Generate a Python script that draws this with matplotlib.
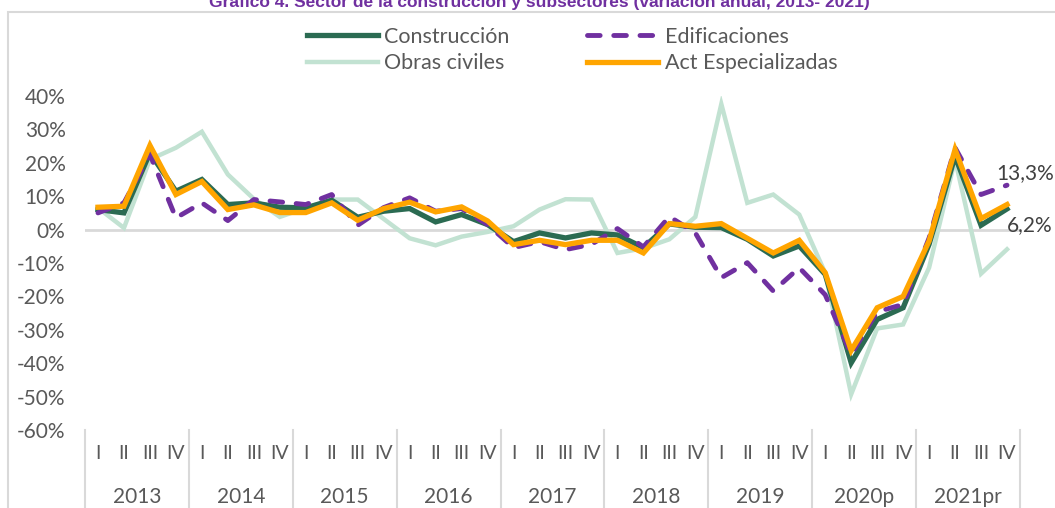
import numpy as np
import matplotlib
matplotlib.use("Agg")
import matplotlib.pyplot as plt
import matplotlib.transforms as mtransforms
from matplotlib.patches import Rectangle

plt.rcParams['font.family'] = ['Lato', 'DejaVu Sans']

# --- Datos (variación anual, %) ---
years = ['2013', '2014', '2015', '2016', '2017', '2018', '2019', '2020p', '2021pr']
quarters = ['I', 'II', 'III', 'IV']

construccion = [6.0, 5.0, 23.0, 11.5, 15.0, 7.5, 8.0, 6.7, 6.5, 8.8, 3.7, 5.5,
                6.3, 2.3, 4.5, 1.5, -3.6, -1.0, -2.5, -1.0, -1.6, -5.4, 1.7, 0.7,
                0.6, -2.9, -7.9, -4.9, -13.4, -39.9, -26.9, -23.4, -4.4, 22.0, 1.3, 6.2]
edificaciones = [5.0, 8.0, 22.5, 3.5, 8.0, 2.7, 9.0, 8.3, 7.5, 10.5, 1.3, 6.6,
                 9.5, 5.5, 6.3, 1.5, -5.4, -3.6, -6.0, -4.4, 0.3, -5.2, 3.9, -1.0,
                 -14.4, -9.9, -18.4, -11.4, -19.5, -37.4, -24.6, -22.4, -2.5, 24.5, 10.5, 13.3]
obras_civiles = [6.5, 0.5, 21.0, 24.5, 29.3, 16.5, 9.2, 3.8, 6.5, 9.0, 9.0, 3.2,
                 -2.6, -4.7, -2.1, -0.7, 1.0, 6.0, 9.1, 9.0, -7.0, -5.6, -2.9, 3.8,
                 37.6, 8.0, 10.5, 4.5, -13.0, -49.3, -29.6, -28.4, -11.4, 21.0, -13.2, -5.9]
act_especializadas = [6.7, 7.0, 25.2, 10.5, 14.4, 6.0, 7.4, 5.1, 5.1, 8.0, 2.8, 6.3,
                      8.2, 5.3, 6.8, 2.6, -4.5, -3.2, -4.5, -3.2, -3.2, -7.0, 1.8, 1.0,
                      1.8, -2.6, -7.0, -3.2, -12.9, -36.2, -23.4, -20.0, -3.4, 24.0, 3.3, 7.5]

# colores
c_cons = '#2b6b52'
c_edif = '#7030a0'
c_obras = '#c2e2d2'
c_act = '#ffa500'
c_text = '#595959'
c_grid = '#d9d9d9'

W, H = 1055, 508
fig = plt.figure(figsize=(W / 100, H / 100), dpi=100)
ax_left, ax_right, ax_top, ax_bottom = 85, 1020, 96, 430
ax = fig.add_axes([ax_left / W, 1 - ax_bottom / H,
                   (ax_right - ax_left) / W, (ax_bottom - ax_top) / H])

x = np.arange(len(construccion))

ax.axhline(0, color=c_grid, lw=2, zorder=1)
l_obras, = ax.plot(x, obras_civiles, color=c_obras, lw=3.2, zorder=2,
                   solid_joinstyle='miter', label='Obras civiles')
l_cons, = ax.plot(x, construccion, color=c_cons, lw=3.8, zorder=3,
                  solid_joinstyle='miter', label='Construcción')
l_edif, = ax.plot(x, edificaciones, color=c_edif, lw=3.5, zorder=4,
                  dashes=(2.6, 2.8), dash_capstyle='round', label='Edificaciones')
l_act, = ax.plot(x, act_especializadas, color=c_act, lw=3.8, zorder=5,
                 solid_joinstyle='miter', label='Act Especializadas')

ax.set_xlim(-0.5, len(x) - 0.5)
ax.set_ylim(-60, 40)
ax.set_yticks(np.arange(-60, 41, 10))
ax.set_yticklabels([f'{v}%' for v in range(-60, 41, 10)])
ax.tick_params(axis='y', length=0, pad=14, labelsize=15, labelcolor=c_text)
ax.set_xticks([])
for s in ax.spines.values():
    s.set_visible(False)

# eje de categorías de dos niveles
trans = mtransforms.blended_transform_factory(ax.transData, ax.transAxes)
for i in range(len(x)):
    ax.text(i, -0.069, quarters[i % 4], transform=trans, ha='center', va='center',
            fontsize=14, color=c_text, clip_on=False)
for k, yr in enumerate(years):
    ax.text(4 * k + 1.5, -0.2, yr, transform=trans, ha='center', va='center',
            fontsize=15, color=c_text, clip_on=False)
for k in range(len(years) + 1):
    ax.plot([4 * k - 0.5, 4 * k - 0.5], [0, -0.3], transform=trans, color=c_grid,
            lw=1.5, clip_on=False)

# etiquetas de datos
ax.annotate('13,3%', (x[-1], edificaciones[-1]), xytext=(-8, 9), textcoords='offset points',
            ha='left', va='center', fontsize=15, color='#404040', annotation_clip=False)
ax.annotate('6,2%', (x[-1], construccion[-1]), xytext=(0, -12), textcoords='offset points',
            ha='left', va='center', fontsize=15, color='#404040', annotation_clip=False)

# leyenda (orden por filas)
leg = fig.legend(handles=[l_cons, l_obras, l_edif, l_act], ncol=2,
                 loc='center', bbox_to_anchor=(572 / W, 1 - 50 / H),
                 frameon=False, fontsize=15.5, handlelength=3.3, handletextpad=0.3,
                 columnspacing=3.6, labelspacing=0.3, labelcolor=c_text)

# título (recortado arriba, como en el original)
fig.text(539 / W, 1 - 7 / H,
         'Gráfico 4. Sector de la construcción y subsectores (variación anual, 2013- 2021)',
         ha='center', va='baseline', fontsize=12.5, fontweight='bold', color=c_edif,
         family=['Liberation Sans', 'DejaVu Sans'])

# marco del gráfico
fig.patches.append(Rectangle((8 / W, -0.1), 1.2, 1.1 - 12 / H, transform=fig.transFigure,
                             fill=False, edgecolor=c_grid, lw=1.5))

fig.savefig('out.png', dpi=100)
